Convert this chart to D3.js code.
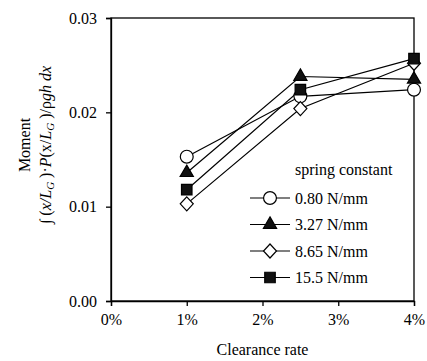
<!DOCTYPE html>
<html>
<head>
<meta charset="utf-8">
<script src="https://cdn.jsdelivr.net/npm/d3@7"></script>
<style>
  body { margin: 0; background: #fff; }
  svg text { font-family: "Liberation Serif", "Times New Roman", Times, serif !important; fill: #000; }
</style>
</head>
<body>
<div id="chart"></div>
<script>
// data
var clearance = [0.01, 0.025, 0.04];
var seriesNames = ["0.80 N/mm", "3.27 N/mm", "8.65 N/mm", "15.5 N/mm"];
var seriesSymbols = ["circle", "triangle", "diamond", "square"];
var moment080 = [0.0153, 0.0217, 0.0224];
var moment327 = [0.0136, 0.0238, 0.0235];
var moment865 = [0.0103, 0.0204, 0.0252];
var moment155 = [0.0118, 0.0224, 0.0257];
var xTicks = [0, 0.01, 0.02, 0.03, 0.04];
var yTicks = [0, 0.01, 0.02, 0.03];

var allSeries = [moment080, moment327, moment865, moment155];

var W = 427, H = 361;
var margin = {top: 18, right: 13, bottom: 60, left: 111};
var width = W - margin.left - margin.right,
    height = H - margin.top - margin.bottom;

var svg = d3.select("#chart").append("svg")
    .attr("width", W)
    .attr("height", H)
    .attr("font-family", "'Liberation Serif', 'Times New Roman', serif");

var g = svg.append("g")
    .attr("transform", "translate(" + margin.left + "," + margin.top + ")");

var x = d3.scaleLinear().domain([0, 0.04]).range([0, width]);
var y = d3.scaleLinear().domain([0, 0.03]).range([height, 0]);

// frame
g.append("rect")
    .attr("width", width)
    .attr("height", height)
    .attr("fill", "none")
    .attr("stroke", "#000")
    .attr("stroke-width", 1.3);

// axes
var xAxis = g.append("g")
    .attr("transform", "translate(0," + height + ")")
    .call(d3.axisBottom(x).tickValues(xTicks).tickSize(5).tickPadding(8)
        .tickFormat(function(d) { return Math.round(d * 100) + "%"; }));
var yAxis = g.append("g")
    .call(d3.axisLeft(y).tickValues(yTicks).tickSize(5).tickPadding(9)
        .tickFormat(d3.format(".2f")));
[xAxis, yAxis].forEach(function(a) {
    a.attr("font-family", null).attr("font-size", 16);
    a.select(".domain").attr("stroke-width", 1.3);
    a.selectAll(".tick line").attr("stroke-width", 1.3);
});

function symbolPath(type) {
    if (type == "circle") return d3.symbol(d3.symbolCircle, 130)();
    if (type == "triangle") return d3.symbol(d3.symbolTriangle, 75)();
    if (type == "diamond") return "M0,-7L6.5,0L0,7L-6.5,0Z";
    return d3.symbol(d3.symbolSquare, 110)();
}
function symbolFill(type) {
    return (type == "circle" || type == "diamond") ? "#fff" : "#111";
}

var line = d3.line()
    .x(function(d, i) { return x(clearance[i]); })
    .y(function(d) { return y(d); });

// lines
allSeries.forEach(function(s) {
    g.append("path")
        .datum(s)
        .attr("fill", "none")
        .attr("stroke", "#000")
        .attr("stroke-width", 1.2)
        .attr("d", line);
});

// markers
allSeries.forEach(function(s, k) {
    g.selectAll(null)
        .data(s)
        .enter().append("path")
        .attr("transform", function(d, i) { return "translate(" + x(clearance[i]) + "," + y(d) + ")"; })
        .attr("d", symbolPath(seriesSymbols[k]))
        .attr("fill", symbolFill(seriesSymbols[k]))
        .attr("stroke", "#000")
        .attr("stroke-width", 1.2);
});

// legend
var legend = svg.append("g").attr("transform", "translate(250,0)");
legend.append("text")
    .attr("x", 45)
    .attr("y", 175)
    .attr("font-size", 16)
    .text("spring constant");
seriesNames.forEach(function(name, k) {
    var ly = 198 + k * 26.5;
    legend.append("line")
        .attr("x1", 0).attr("x2", 40)
        .attr("y1", ly).attr("y2", ly)
        .attr("stroke", "#000")
        .attr("stroke-width", 1.2);
    legend.append("path")
        .attr("transform", "translate(20," + ly + ")")
        .attr("d", symbolPath(seriesSymbols[k]))
        .attr("fill", symbolFill(seriesSymbols[k]))
        .attr("stroke", "#000")
        .attr("stroke-width", 1.2);
    legend.append("text")
        .attr("x", 45)
        .attr("y", ly + 5.5)
        .attr("font-size", 16)
        .text(name);
});

// axis titles
svg.append("text")
    .attr("x", margin.left + width / 2)
    .attr("y", 355)
    .attr("text-anchor", "middle")
    .attr("font-size", 16)
    .text("Clearance rate");

var yt = svg.append("text")
    .attr("transform", "translate(0,145) rotate(-90)")
    .attr("text-anchor", "middle")
    .attr("font-size", 16);
yt.append("tspan").attr("x", 0).attr("y", 30).text("Moment");
var t2 = yt.append("tspan").attr("x", 0).attr("y", 51);
t2.append("tspan").attr("font-style", "italic").text("\u222B ");
t2.append("tspan").text("(");
t2.append("tspan").attr("font-style", "italic").text("x/L");
t2.append("tspan").attr("font-style", "italic").attr("font-size", 11).attr("dy", 3).text("G");
t2.append("tspan").attr("dy", -3).text(" )\u00B7");
t2.append("tspan").attr("font-style", "italic").text("P");
t2.append("tspan").text("(x/");
t2.append("tspan").attr("font-style", "italic").text("L");
t2.append("tspan").attr("font-style", "italic").attr("font-size", 11).attr("dy", 3).text("G");
t2.append("tspan").attr("dy", -3).text(" )/\u03C1");
t2.append("tspan").attr("font-style", "italic").text("gh dx");
</script>
</body>
</html>
